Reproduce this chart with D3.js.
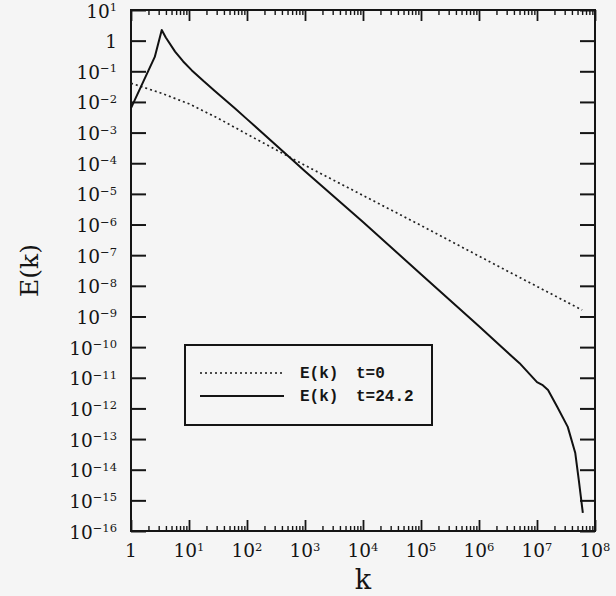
<!DOCTYPE html>
<html lang="en">
<head>
<meta charset="UTF-8">
<title>E(k) spectrum</title>
<script src="https://d3js.org/d3.v7.min.js"></script>
<style>
    body { margin: 0; background: #f5f5f5; }
    svg { display: block; }
    .tick-label { font-family: "DejaVu Serif", serif; font-size: 18.5px; fill: #151515; }
    .axis-title { font-family: "DejaVu Serif", serif; fill: #151515; }
    .legend-text { font-family: "Liberation Mono", monospace; font-size: 16px; font-weight: bold; fill: #151515; }
    .axis line { stroke: #151515; }
</style>
</head>
<body>
<svg id="chart" width="616" height="596"></svg>
<script>
    // E(k) at t=0 (dotted)
    const kStart = [1, 3.16, 10, 31.6, 100, 1e3, 1e4, 1e5, 1e6, 1e7, 6.0e7];
    const eStart = [0.0407, 0.020, 0.0087, 0.00295, 8.9e-4, 8.5e-5, 8.9e-6, 9.3e-7, 9.3e-8, 9.5e-9, 1.62e-9];

    // E(k) at t=24.2 (solid)
    const kLate = [1, 2.57, 3.39, 3.98, 5.75, 7.94, 11.2, 17.8, 28.2, 61.7, 100, 500, 1e3, 1e4, 1e5, 1e6,
                   2.3e6, 5.0e6, 1e7, 1.23e7, 1.55e7, 2.24e7, 3.39e7, 4.57e7, 5.25e7, 6.17e7];
    const eLate = [6.3e-3, 0.295, 2.24, 1.26, 0.437, 0.209, 0.107, 0.0479, 0.0224, 6.2e-3, 2.75e-3, 1.78e-4, 5.5e-5,
                   1.2e-6, 2.4e-8, 4.8e-10, 1.12e-10, 3.0e-11, 7.2e-12, 5.9e-12, 4.0e-12, 1.12e-12, 2.5e-13,
                   3.5e-14, 4.7e-15, 3.9e-16];

    const xExponents = [0, 1, 2, 3, 4, 5, 6, 7, 8];
    const yExponents = [1, 0, -1, -2, -3, -4, -5, -6, -7, -8, -9, -10, -11, -12, -13, -14, -15, -16];
    const legendNames = ["E(k)", "E(k)"];
    const legendTimes = ["t=0", "t=24.2"];

    const margin = { top: 10, right: 21, bottom: 65, left: 131 },
          width = 616 - margin.left - margin.right,
          height = 596 - margin.top - margin.bottom;

    const svg = d3.select("#chart")
        .append("g")
        .attr("transform", `translate(${margin.left},${margin.top})`);

    const x = d3.scaleLog().domain([1, 1e8]).range([0, width]);
    const y = d3.scaleLog().domain([1e-16, 10]).range([height, 0]);

    const xMajor = xExponents.map(e => Math.pow(10, e));
    const yMajor = yExponents.map(e => Math.pow(10, e));
    const xMinor = d3.range(0, 8).flatMap(d => d3.range(2, 10).map(m => m * Math.pow(10, d)));

    function styleAxis(g, w) {
        g.attr("class", "axis");
        g.select(".domain").remove();
        g.selectAll("line").attr("stroke-width", w);
    }

    // bottom and top: minor + major ticks pointing inward
    svg.append("g").attr("transform", `translate(0,${height})`)
        .call(d3.axisBottom(x).tickValues(xMinor).tickSize(-5).tickFormat(""))
        .call(g => styleAxis(g, 1.4));
    svg.append("g").attr("transform", `translate(0,${height})`)
        .call(d3.axisBottom(x).tickValues(xMajor).tickSize(-11).tickFormat(""))
        .call(g => styleAxis(g, 1.8));
    svg.append("g")
        .call(d3.axisTop(x).tickValues(xMinor).tickSize(-5).tickFormat(""))
        .call(g => styleAxis(g, 1.4));
    svg.append("g")
        .call(d3.axisTop(x).tickValues(xMajor).tickSize(-11).tickFormat(""))
        .call(g => styleAxis(g, 1.8));

    // left and right: decade ticks only
    svg.append("g")
        .call(d3.axisLeft(y).tickValues(yMajor).tickSize(-15).tickFormat(""))
        .call(g => styleAxis(g, 2));
    svg.append("g").attr("transform", `translate(${width},0)`)
        .call(d3.axisRight(y).tickValues(yMajor).tickSize(-15).tickFormat(""))
        .call(g => styleAxis(g, 2));

    // frame
    svg.append("rect")
        .attr("width", width).attr("height", height)
        .attr("fill", "none").attr("stroke", "#151515").attr("stroke-width", 2);

    function powerLabel(sel, e) {
        if (e === 0) { sel.text("1"); return; }
        sel.append("tspan").text("10");
        sel.append("tspan").attr("dy", -6.5).attr("font-size", "11.5px")
            .text(e < 0 ? "\u2212" + (-e) : String(e));
    }

    // x tick labels
    xExponents.forEach(e => {
        svg.append("text")
            .attr("class", "tick-label")
            .attr("x", x(Math.pow(10, e)))
            .attr("y", height + 26)
            .attr("text-anchor", "middle")
            .call(t => powerLabel(t, e));
    });

    // y tick labels
    yExponents.forEach(e => {
        svg.append("text")
            .attr("class", "tick-label")
            .attr("x", -14)
            .attr("y", y(Math.pow(10, e)) + 7.5)
            .attr("text-anchor", "end")
            .call(t => powerLabel(t, e));
    });

    // axis titles
    svg.append("text")
        .attr("class", "axis-title")
        .attr("x", width / 2)
        .attr("y", height + 58)
        .attr("text-anchor", "middle")
        .style("font-size", "27px")
        .text("k");

    svg.append("text")
        .attr("class", "axis-title")
        .attr("transform", `translate(${38 - margin.left},${height / 2})rotate(-90)`)
        .attr("text-anchor", "middle")
        .style("font-size", "25px")
        .text("E(k)");

    const line = d3.line()
        .x(d => x(d[0]))
        .y(d => y(d[1]));

    // curves
    svg.append("path")
        .datum(d3.zip(kStart, eStart))
        .attr("fill", "none")
        .attr("stroke", "#222")
        .attr("stroke-width", 1.7)
        .attr("stroke-dasharray", "2,3")
        .attr("d", line);

    svg.append("path")
        .datum(d3.zip(kLate, eLate))
        .attr("fill", "none")
        .attr("stroke", "#111")
        .attr("stroke-width", 2)
        .attr("stroke-linejoin", "round")
        .attr("d", line);

    // legend
    const legend = svg.append("g").attr("transform", `translate(${185 - margin.left},${345 - margin.top})`);
    legend.append("rect")
        .attr("width", 247).attr("height", 80)
        .attr("fill", "#f5f5f5").attr("stroke", "#151515").attr("stroke-width", 2);

    const dashes = ["2,3", null];
    legendNames.forEach((name, i) => {
        const ly = 28 + i * 23;
        legend.append("line")
            .attr("x1", 15).attr("x2", 99)
            .attr("y1", ly).attr("y2", ly)
            .attr("stroke", "#151515")
            .attr("stroke-width", i === 0 ? 1.7 : 2)
            .attr("stroke-dasharray", dashes[i]);
        legend.append("text").attr("class", "legend-text")
            .attr("x", 115).attr("y", ly + 5).text(name);
        legend.append("text").attr("class", "legend-text")
            .attr("x", 171).attr("y", ly + 5).text(legendTimes[i]);
    });
</script>
</body>
</html>
